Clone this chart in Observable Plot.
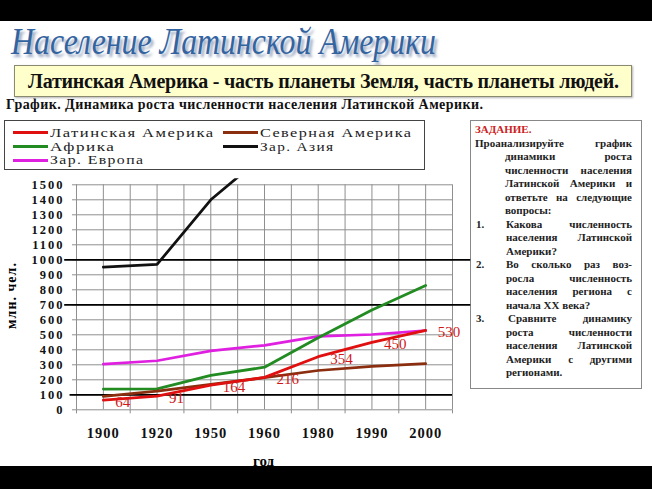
<!DOCTYPE html>
<html><head><meta charset="utf-8">
<script src="https://cdn.jsdelivr.net/npm/d3@7"></script>
<script src="https://cdn.jsdelivr.net/npm/@observablehq/plot@0.6"></script>
<style>
html,body{margin:0;padding:0;background:#fff;width:652px;height:489px;overflow:hidden;position:relative}
.abs{position:absolute;white-space:nowrap;line-height:1}
.band{position:absolute;left:0;width:652px;background:#000;z-index:10}
#title{left:11px;top:22.5px;font-family:"Liberation Serif",serif;font-style:italic;font-size:37px;color:#33649f;text-shadow:3px 3px 3px rgba(110,130,165,.7);transform-origin:0 0}
#ybox{position:absolute;left:14px;top:65px;width:616px;height:30px;background:#ffffcc;border:1px solid #8a8a70;box-shadow:1px 1px 2px rgba(0,0,0,.3)}
#ytext{left:28px;top:71px;font-family:"Liberation Serif",serif;font-weight:bold;font-size:20px;color:#111}
#sub{left:6px;top:97.5px;font-family:"Liberation Serif",serif;font-weight:bold;font-size:14px;color:#111}
#legend{position:absolute;left:4px;top:120px;width:419px;height:48px;border:1px solid #444;background:#fff}
.lg{font-family:"Liberation Serif",serif;font-size:13.5px;letter-spacing:1.2px;color:#222;transform-origin:0 0}
.sw{position:absolute;height:3px}
#task{position:absolute;left:470px;top:120px;width:170px;height:267px;border:1px solid #888;background:#fff}
.tl{position:absolute;font-family:"Liberation Serif",serif;font-weight:bold;font-size:11px;line-height:11px;color:#222;white-space:nowrap}
.tl.j{text-align:justify;text-align-last:justify;white-space:normal}
#plot{position:absolute;left:0;top:170px}
#plot g[aria-label="x-axis tick label"] text{letter-spacing:1px}
#plot g[aria-label="y-axis tick label"] text{letter-spacing:2px}
#ylab{font-family:"Liberation Serif",serif;font-weight:bold;font-size:14px;letter-spacing:1px;transform-origin:0 0}
#xlab{left:253px;top:454px;font-family:"Liberation Serif",serif;font-weight:bold;font-size:15px}
</style></head>
<body>
<div class="band" style="top:0;height:21px"></div>
<div class="band" style="top:466px;height:23px"></div>
<div id="title" class="abs">Население Латинской Америки</div>
<div id="ybox"></div>
<div id="ytext" class="abs">Латинская Америка - часть планеты Земля, часть планеты людей.</div>
<div id="sub" class="abs">График. Динамика роста численности населения Латинской Америки.</div>
<div id="legend"></div>
<div id="task"></div>
<div id="plot"></div>
<div id="ylab" class="abs">млн. чел.</div>
<div id="xlab" class="abs">год</div>
<script>
// ---- data ----
const years = ["1900", "1920", "1950", "1960", "1980", "1990", "2000"];
const latinAmerica = [64, 91, 164, 216, 354, 450, 530];
const northAmerica = [90, 125, 170, 214, 262, 290, 308];
const africa = [138, 140, 229, 284, 480, 665, 829];
const westAsia = [951, 969, 1400, 1700, 2600, 3100, 3700];
const westEurope = [305, 327, 393, 430, 490, 502, 528];
const regions = ["Латинская Америка", "Северная Америка", "Африка", "Зар. Азия", "Зар. Европа"];
const yTicks = [0, 100, 200, 300, 400, 500, 600, 700, 800, 900, 1000, 1100, 1200, 1300, 1400, 1500];
const markedLevels = [700, 1000];
const markedLevelsShort = [100];

// ---- styles ----
const regionColors = ["#e01010", "#8b2d0f", "#228b22", "#111111", "#e020e0"];
const seriesValues = [latinAmerica, northAmerica, africa, westAsia, westEurope];
const drawOrder = [3, 4, 2, 1, 0];

const rows = drawOrder.flatMap(k => years.map((y, i) => ({i, year: y, region: regions[k], value: seriesValues[k][i]})));
const latinRows = rows.filter(d => d.region === regions[0]);
const idx = years.map((_, i) => i);
const bounds = idx.map(i => i - 0.5).concat([years.length - 0.5]);
const gridX = bounds.concat(idx);

const plot = Plot.plot({
  width: 470, height: 295,
  marginLeft: 76, marginRight: 18, marginTop: 8.3, marginBottom: 55.7,
  style: {fontFamily: "'Liberation Serif', serif", background: "transparent", overflow: "visible", color: "#111"},
  x: {type: "linear", domain: [-0.5, years.length - 0.5]},
  y: {domain: [0, 1540]},
  color: {domain: regions, range: regionColors},
  marks: [
    Plot.ruleX(gridX, {y1: 0, y2: 1500, stroke: "#8f8f8f", strokeWidth: 1}),
    Plot.ruleX(bounds, {y1: 0, y2: -27, stroke: "#8f8f8f", strokeWidth: 1}),
    Plot.ruleY(yTicks, {x1: -0.575, x2: years.length - 0.5, stroke: "#8f8f8f", strokeWidth: 1}),
    Plot.ruleY(markedLevels, {x1: -0.72, x2: 6.84, stroke: "#000", strokeWidth: 1.8}),
    Plot.ruleY(markedLevelsShort, {x1: -0.62, x2: years.length - 0.5, stroke: "#000", strokeWidth: 1.8}),
    Plot.line(rows, {x: "i", y: "value", z: "region", stroke: "region", strokeWidth: 2.75, strokeLinejoin: "round", clip: true}),
    Plot.text(latinRows, {x: "i", y: "value", text: d => String(d.value), textAnchor: "start", dx: 12, dy: 2, fill: "#d01818", fontSize: 15, fontFamily: "'Liberation Serif', serif"}),
    Plot.axisY({ticks: yTicks, tickFormat: d => String(d), tickSize: 0, tickPadding: 12, fontSize: 12.5, fontWeight: "bold", label: null}),
    Plot.axisX({ticks: idx, tickFormat: i => years[i], tickSize: 0, tickPadding: 18, fontSize: 14.5, fontWeight: "bold", label: null})
  ]
});
document.getElementById("plot").appendChild(plot);

// ---- legend ----
const legend = document.getElementById("legend");
const legendPos = [
  {k: 0, sx: 8, row: 0, w: 163},
  {k: 1, sx: 218, row: 0, w: 151},
  {k: 2, sx: 8, row: 1, w: 64},
  {k: 3, sx: 218, row: 1, w: 73},
  {k: 4, sx: 8, row: 2, w: 93}
];
const rowY = [11.5, 25.5, 39];
legendPos.forEach(p => {
  const sw = document.createElement("div");
  sw.className = "sw";
  sw.style.left = p.sx + "px"; sw.style.width = "35px";
  sw.style.top = (rowY[p.row] - 1.5) + "px";
  sw.style.background = regionColors[p.k];
  legend.appendChild(sw);
  const t = document.createElement("div");
  t.className = "abs lg";
  t.textContent = regions[p.k];
  t.style.left = (p.sx + 37) + "px";
  t.style.top = (rowY[p.row] + 4.5 - 0.8375 * 13.5) + "px";
  legend.appendChild(t);
  const w = t.getBoundingClientRect().width - 1.2;
  t.style.transform = `scaleX(${p.w / w})`;
});

// ---- fits ----
function fitScale(id, target) {
  const el = document.getElementById(id);
  const w = el.getBoundingClientRect().width;
  el.style.transform = `scaleX(${target / w})`;
}
function fitSpacing(id, target) {
  const el = document.getElementById(id);
  const w = el.getBoundingClientRect().width;
  el.style.letterSpacing = ((target - w) / (el.textContent.length - 1)) + "px";
}
fitScale("title", 425);
fitSpacing("ytext", 591);
fitSpacing("sub", 477);

// y label rotated
const yl = document.getElementById("ylab");
const ylw = yl.getBoundingClientRect().width;
yl.style.left = "5px";
yl.style.top = (296 + ylw / 2) + "px";
yl.style.transform = "rotate(-90deg)";

// ---- task box ----
const taskLines = [
  {t: "ЗАДАНИЕ.", x: 475, red: true},
  {t: "Проанализируйте график", x: 475, j: true},
  {t: "динамики роста", x: 505, j: true},
  {t: "численности населения", x: 505, j: true},
  {t: "Латинской Америки и", x: 505, j: true},
  {t: "ответьте на следующие", x: 505, j: true},
  {t: "вопросы:", x: 505},
  {n: "1.", t: "Какова численность", x: 506, j: true},
  {t: "населения Латинской", x: 506, j: true},
  {t: "Америки?", x: 506},
  {n: "2.", t: "Во сколько раз воз-", x: 506, j: true},
  {t: "росла численность", x: 506, j: true},
  {t: "населения региона с", x: 506, j: true},
  {t: "начала XX века?", x: 506},
  {n: "3.", t: "Сравните динамику", x: 508, j: true},
  {t: "роста численности", x: 506, j: true},
  {t: "населения Латинской", x: 506, j: true},
  {t: "Америки с другими", x: 506, j: true},
  {t: "регионами.", x: 506}
];
taskLines.forEach((L, k) => {
  const base = 133.3 + 13.5 * k;
  const d = document.createElement("div");
  d.className = "tl" + (L.j ? " j" : "");
  d.textContent = L.t;
  d.style.left = L.x + "px";
  d.style.top = (base - 9.2) + "px";
  if (L.j) d.style.width = (632 - L.x) + "px";
  if (L.red) d.style.color = "#cc2222";
  document.body.appendChild(d);
  if (L.n) {
    const nn = document.createElement("div");
    nn.className = "tl";
    nn.textContent = L.n;
    nn.style.left = "476px";
    nn.style.top = (base - 9.2) + "px";
    document.body.appendChild(nn);
  }
});
</script>
</body></html>
